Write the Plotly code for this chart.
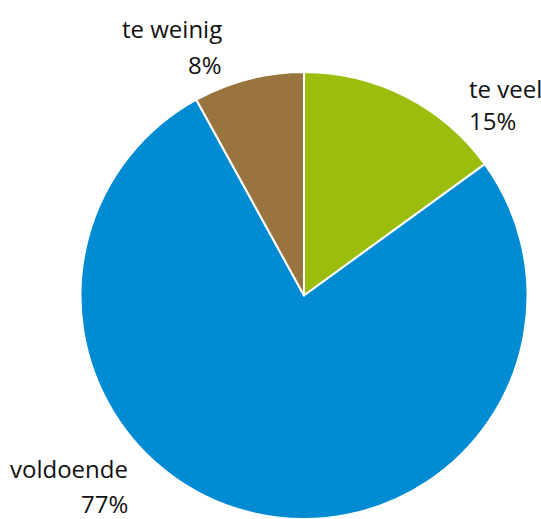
# importing libraries
import plotly.graph_objs as go

# data
labels = ['te veel', 'voldoende', 'te weinig']
values = [15, 77, 8]
colors = ['#9BBE0E', '#008BD2', '#9A743E']

# label placement: x edge, y middle of first line, y middle of second line (pixels from top-left)
label_pos = {
    'te veel': dict(x=468, y1=88, y2=120, xanchor='left'),
    'voldoende': dict(x=129, y1=468, y2=503, xanchor='right'),
    'te weinig': dict(x=223, y1=29, y2=64, xanchor='right'),
}

W, H = 541, 519

# creating figure
fig = go.Figure()
fig.add_trace(go.Pie(
    labels=labels,
    values=values,
    sort=False,
    direction='clockwise',
    rotation=0,
    textinfo='none',
    hoverinfo='label+percent',
    marker=dict(colors=colors, line=dict(color='white', width=2)),
    domain=dict(x=[77 / W, 531 / W], y=[0, 1 - 72 / H]),
    showlegend=False,
))

# labels
total = sum(values)
for lab, val in zip(labels, values):
    pos = label_pos[lab]
    for txt, py in [(lab, pos['y1']), (f'{round(100 * val / total)}%', pos['y2'])]:
        fig.add_annotation(
            text=txt,
            xref='paper', yref='paper',
            x=pos['x'] / W, y=1 - py / H,
            xanchor=pos['xanchor'], yanchor='middle',
            showarrow=False,
            borderpad=0,
            font=dict(family='Open Sans', size=24, color='#111111'),
        )

# updating layout
fig.update_layout(
    width=W, height=H,
    margin=dict(l=0, r=0, t=0, b=0),
    paper_bgcolor='white', plot_bgcolor='white',
)

fig.write_html(
    'out.html',
    config={'displayModeBar': False},
    post_script="document.body.style.margin='0';document.body.style.overflow='hidden';",
)
